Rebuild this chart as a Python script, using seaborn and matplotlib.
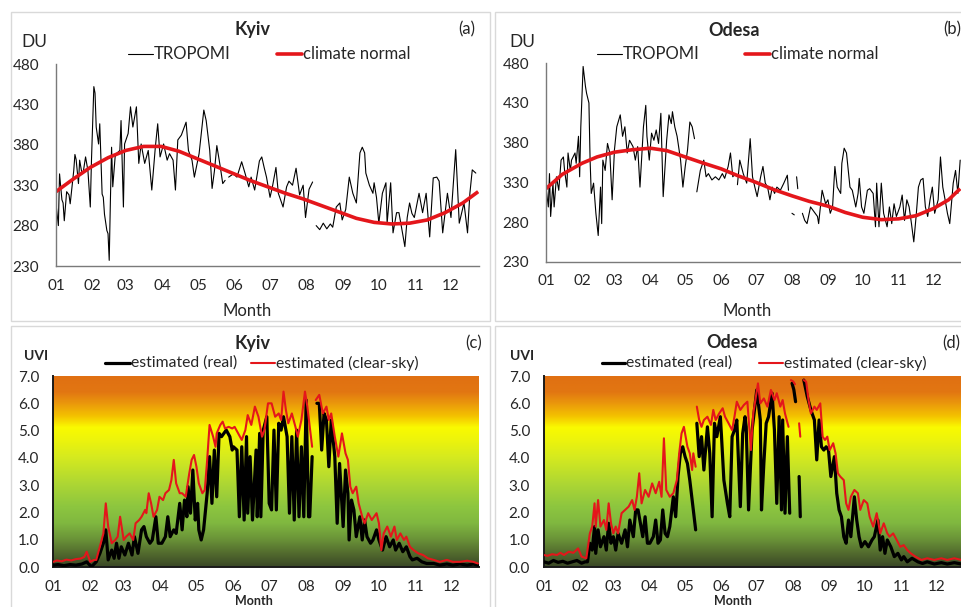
import numpy as np
import matplotlib
matplotlib.use("Agg")
import matplotlib.pyplot as plt
import seaborn as sns
from matplotlib.colors import LinearSegmentedColormap
from matplotlib.lines import Line2D
from matplotlib.patches import Rectangle

nan = np.nan

# ---------------- data ----------------
month_days = [1, 32, 60, 91, 121, 152, 182, 213, 244, 274, 305, 335]
month_labels = ["01", "02", "03", "04", "05", "06", "07", "08", "09", "10", "11", "12"]
du_ticks = [230, 280, 330, 380, 430, 480]
uvi_ticks = [0, 1, 2, 3, 4, 5, 6, 7]

kyiv_o3_day = [1,3,4,6,7,8,10,12,13,16,17,18,20,21,23,24,26,28,30,31,33,34,35,37,38,40,41,42,44,45,46,47,48,49,51,52,55,56,58,59,62,64,66,69,71,73,76,79,82,85,87,89,92,95,97,100,102,104,107,111,113,116,118,122,126,128,131,133,135,137,140,142,144,145.5,147,151,154,158,161,164,166,169,173,175,177,179,182,184,187,189,193,196,198,201,204,207,210,212,215,218,219.5,221,224,227,230,233,235,238,241,243,246,249,252,255,258,260,262,263,266,269,270,272,274,277,280,281,284,286,289,291,294,296,298,300,302,304,308,311,314,317,320,323,325,328,332,335,339,342,346,349,351,353,356]
kyiv_o3 = [307,280,344,312,308,286,322,318,307,348,368,362,332,361,344,346,365,348,303,361,452,444,402,381,406,319,315,294,274,270,237,311,377,328,365,369,373,410,303,381,394,427,402,427,357,381,357,373,324,377,406,365,381,361,369,361,324,386,392,408,373,361,340,369,423,410,373,326,348,379,352,332,336,nan,340,344,340,359,344,328,340,324,360,365,352,340,315,328,352,320,303,328,335,330,351,318,330,290,325,334,nan,280,275,283,276,282,278,303,308,287,300,340,320,308,370,377,370,345,330,320,333,315,283,320,333,283,333,271,296,296,271,254,290,308,295,290,320,296,320,266,339,340,335,271,320,290,374,283,308,271,320,349,345]

kyiv_norm_day = [1,15,30,45,60,75,90,105,120,135,150,165,180,195,210,225,240,255,270,285,300,315,330,345,358]
kyiv_norm = [322,337,352,364,373,378,378,372,363,354,345,336,328,320,313,305,297,289,284,282,283,287,296,308,322]

odesa_o3_day = [1,3,4,5,7,8,10,12,14,16,17,19,20,22,23,26,27,29,30,31,33,35,36,38,39,40,42,44,46,48,49,50,52,54,56,58,60,62,65,67,69,71,73,76,78,80,82,85,87,88,90,92,94,96,98,100,102,105,107,109,110,112,114,117,119,121,123,125,127,129,130,131,134,137,139,141,144,147,150,153,155,158,160,162,164,165,166,168,171,174,177,179,181,183,186,188,190,192,194,196,198,200,203,206,209,210,211,213,215,216,217,218,219,222,224,226,229,232,235,236,239,242,244,246,248,250,252,255,256,258,260,263,265,268,270,271,273,275,278,280,283,285,286,288,290,292,295,297,299,301,303,306,308,310,312,314,316,318,320,322,324,326,328,330,332,334,336,339,341,343,345,347,349,352,354,356,358]
odesa_o3 = [324,299,341,287,329,299,337,320,358,362,345,324,367,345,358,367,354,388,337,400,476,451,442,430,358,316,329,291,263,324,278,358,345,379,367,308,371,400,415,388,400,367,383,375,358,375,324,400,427,388,358,392,383,396,379,417,312,383,415,404,419,400,388,358,324,350,371,406,400,385,nan,318,345,358,337,341,333,337,333,341,335,350,367,337,341,nan,327,358,341,329,385,337,324,312,337,350,329,324,308,324,316,324,320,329,339,320,nan,291,289,nan,337,322,nan,291,282,278,299,293,287,278,320,303,308,291,299,350,324,316,354,373,367,324,320,299,316,335,299,291,320,322,316,274,329,274,329,291,274,299,278,303,287,299,314,282,308,299,278,255,287,324,333,335,299,287,308,324,291,308,362,324,308,291,278,329,345,316,358]

odesa_norm_day = [1,15,32,45,60,75,91,105,121,135,152,167,182,197,213,228,244,259,274,290,305,320,335,348,358]
odesa_norm = [322,340,354,362,368,371,373,370,362,355,347,338,330,321,313,306,300,292,286,283,284,288,297,308,322]

kyiv_cs_day = [1,4,8,12,16,20,24,27,29,32,35,37,40,43,45,47,50,53,55,57,60,62,65,68,70,73,75,78,79,81,83,85,88,90,93,95,98,100,102,104,107,109,112,115,117,119,121,123,126,128,130,132,135,137,138,141,143,145,148,151,153,156,159,162,164,167,170,173,176,178,181,184,187,190,192,194,196,198,201,204,206,209,212,214,216,218,219.5,221,224,227,230,232,234,237,240,243,246,248,250,252,255,257,260,262,265,268,272,274,276,278,281,284,287,289,292,295,297,300,303,307,311,315,320,325,331,336,342,348,353,357]
kyiv_cs = [0.2,0.25,0.22,0.28,0.25,0.3,0.32,0.38,0.57,0.2,0.27,0.27,0.75,1.24,2.34,1.49,0.88,1.0,1.12,1.85,1.0,1.12,1.24,1.0,1.61,1.73,1.85,2.1,1.98,2.71,2.34,1.85,2.1,2.58,2.46,2.71,2.83,3.19,3.93,3.07,2.71,2.71,2.58,3.44,3.93,4.11,3.68,3.07,2.71,2.83,3.93,5.21,4.78,4.41,4.9,5.21,5.33,5.08,5.14,5.08,5.14,4.9,4.66,5.02,5.57,5.21,5.88,5.51,4.78,5.02,6.0,6.0,5.51,5.63,5.39,6.43,5.76,5.27,5.63,5.14,4.78,5.39,6.43,5.88,5.14,4.41,nan,6.12,6.31,5.63,5.88,5.39,5.63,4.78,4.05,4.9,4.17,3.93,2.95,2.71,2.95,2.34,1.85,1.61,1.98,1.73,1.98,1.61,0.63,1.24,1.49,1.12,1.49,1.0,1.24,1.0,1.12,0.75,0.63,0.51,0.45,0.33,0.27,0.2,0.27,0.2,0.2,0.24,0.2,0.14]

kyiv_re_day = [1,5,10,15,20,25,29,33,37,40,43,45,47,50,52,54,56,58,61,64,67,69,72,75,77,79,82,84,87,89,92,95,97,99,102,104,107,109,111,113,114,116,118,120,122,123,125,127,130,132,134,136,138,140,142,144,146,149,151,152,155,157,159,161,163,164,166,168,171,172,174,175,177,180,182,184,186,188,190,192,194,197,199,201,203,205,207,209,211,213,215,216,218,219.5,222,224,226,228,230,232,234,237,239,241,244,246,248,249,251,253,255,258,260,262,264,267,269,272,274,277,280,283,286,288,291,294,297,300,302,306,310,314,320,325,331,336,342,348,353,357]
kyiv_re = [0.08,0.1,0.06,0.1,0.08,0.12,0.2,0.02,0.2,0.5,0.88,1.37,0.27,0.63,0.33,0.88,0.33,0.75,0.45,0.88,0.45,1.12,0.51,1.37,1.49,1.12,0.88,1.0,1.85,0.88,0.88,1.12,1.85,1.12,1.37,1.24,2.34,1.37,2.46,1.85,2.95,1.98,3.56,1.73,2.34,1.37,1.0,1.37,2.71,4.05,2.34,4.29,2.58,4.9,4.78,4.9,5.02,4.78,4.29,4.41,4.29,1.85,4.41,1.73,4.78,1.98,4.05,1.73,4.29,1.85,4.9,1.85,5.02,5.51,2.34,2.1,5.02,2.1,5.27,5.02,5.51,4.78,1.98,4.78,1.73,5.02,1.85,4.41,1.85,6.12,1.85,1.85,4.05,nan,6.0,6.0,4.29,5.63,5.39,3.68,5.39,4.05,1.61,3.8,1.49,3.56,2.71,1.0,2.46,2.1,1.12,1.85,1.0,1.73,1.12,0.88,1.0,1.37,1.0,0.63,1.12,0.75,1.0,0.63,0.88,0.57,0.75,0.39,0.27,0.33,0.2,0.14,0.14,0.08,0.12,0.08,0.12,0.08,0.12,0.08]

odesa_cs_day = [1,4,8,12,15,18,22,26,30,33,37,40,42,44,45,47,49,52,54,56,58,60,62,64,67,70,73,76,78,80,82,84,87,90,93,96,99,101,103,105,108,111,114,116,118,120,123,125,127,128,130,130.5,131,133,135,137,140,143,145,147,150,153,155,158,161,163,165,168,171,174,177,179,183,185,188,191,194,197,199,202,204,206,209,210,211,213,214.5,216,218,219,220,222,224,226,228,231,233,236,238,240,242,244,247,249,251,253,256,258,260,262,265,268,270,273,276,278,281,284,287,290,293,295,298,301,304,307,310,313,317,322,327,333,339,344,350,356]
odesa_cs = [0.45,0.42,0.48,0.45,0.53,0.45,0.57,0.53,0.69,0.39,0.33,1.24,1.49,2.34,1.49,2.46,1.49,1.73,1.37,2.34,1.61,1.24,1.49,1.24,1.98,2.1,2.22,2.46,2.1,2.58,3.44,2.34,2.83,2.58,3.07,2.71,3.13,2.58,4.72,2.83,2.58,2.71,3.19,4.17,4.9,5.14,4.41,4.17,3.56,4.17,3.68,nan,5.88,5.39,5.14,5.39,5.51,5.21,5.76,5.39,5.63,5.82,5.51,5.27,5.02,5.51,6.06,5.76,5.94,6.06,4.29,5.63,6.73,6.0,6.18,5.88,6.49,6.12,6.37,5.88,6.12,5.63,5.14,nan,6.85,6.8,6.7,nan,5.27,4.78,nan,6.85,6.79,6.12,5.63,5.88,5.76,6.0,4.78,4.66,4.78,4.29,4.54,4.17,3.44,3.32,3.19,2.34,2.1,2.58,2.83,2.71,2.1,2.46,2.34,1.85,1.49,1.98,1.24,1.61,1.24,1.12,1.24,1.0,0.75,0.81,0.63,0.51,0.39,0.27,0.33,0.27,0.33,0.27,0.33,0.27]

odesa_re_day = [1,5,9,13,17,21,25,29,33,36,38,40,42,44,45,47,49,52,54,56,58,60,62,64,67,70,72,74,77,79,81,83,85,87,89,91,94,96,98,100,102,104,106,108,111,113,115,117,119,121,123,125,128,130,130.5,131,133,135,137,140,142,144,146,148,151,152,154,157,159,161,163,165,168,170,172,173,175,178,180,182,185,186,188,190,192,195,197,199,201,203,204,206,208,210,211,212,213.5,215,216,218,219,220,222,225,228,231,233,235,237,239,241,243,245,248,250,252,254,256,258,260,262,265,267,269,271,274,277,280,282,285,287,289,291,293,296,299,302,305,307,310,314,319,323,327,333,339,344,350,356]
odesa_re = [0.2,0.15,0.25,0.18,0.22,0.15,0.2,0.25,0.15,0.2,0.2,0.88,0.63,1.49,0.51,1.37,0.75,1.12,0.63,1.61,0.88,1.12,0.63,1.24,0.88,1.37,0.75,1.73,1.12,2.1,2.1,1.61,1.12,1.85,0.88,0.88,1.12,1.73,0.88,1.0,2.1,1.24,1.12,1.49,2.58,1.85,3.32,4.17,4.41,4.05,3.8,3.19,2.1,1.37,nan,5.27,4.05,4.78,3.56,5.14,4.17,1.85,5.27,4.78,5.51,4.78,3.19,2.34,1.85,4.78,5.02,5.39,2.22,4.9,5.51,5.14,2.1,5.02,5.76,6.49,5.39,2.1,3.8,5.27,5.51,6.37,5.02,2.34,5.51,2.1,5.39,1.98,4.78,1.98,nan,6.73,6.5,6.06,nan,3.32,1.85,nan,6.85,6.24,5.76,5.39,3.93,5.39,4.41,4.29,4.41,4.29,3.32,4.05,2.71,2.1,1.85,1.12,0.88,1.73,1.12,2.58,1.73,1.12,0.75,0.94,0.75,1.0,1.12,1.73,0.63,1.12,0.51,1.0,0.75,0.39,0.51,0.27,0.39,0.2,0.33,0.2,0.14,0.2,0.12,0.17,0.12,0.17,0.12]

# ---------------- style ----------------
sns.set_theme(style="white")
plt.rcParams["font.family"] = ["Lato", "DejaVu Sans"]
TXT = "#262626"
RED = "#e4161b"
W, H = 961, 607

fig = plt.figure(figsize=(W / 100, H / 100), dpi=100)
fig.patch.set_facecolor("white")


def fx(px):
    return px / W


def fy(py):
    return 1 - py / H


def add_ax(l, r, t, b):
    return fig.add_axes([fx(l), fy(b), (r - l) / W, (b - t) / H])


def draw(ax, days, vals, **kw):
    d = np.asarray(days, float)
    v = np.asarray(vals, float)
    idx = np.flatnonzero(np.isnan(v))
    starts = np.r_[0, idx + 1]
    ends = np.r_[idx, len(v)]
    for s, e in zip(starts, ends):
        if e - s >= 2:
            sns.lineplot(x=d[s:e], y=v[s:e], ax=ax, estimator=None, sort=False,
                         legend=False, **kw)


# panel frames
for (l, t, r, b) in [(10.5, 11.5, 490, 320.5), (494.5, 11.5, 970, 320.5),
                     (10.5, 325.5, 490, 615), (494.5, 325.5, 970, 615)]:
    fig.add_artist(Rectangle((fx(l), fy(b)), (r - l) / W, (b - t) / H,
                             transform=fig.transFigure, fill=False,
                             edgecolor="#d9d9d9", lw=1.0))


def style_axes(ax, spine_color, spine_lw):
    for s in ["top", "right"]:
        ax.spines[s].set_visible(False)
    for s in ["left", "bottom"]:
        ax.spines[s].set_color(spine_color)
        ax.spines[s].set_linewidth(spine_lw)
    ax.set_facecolor("none")
    ax.set_xticks(month_days)
    ax.set_xticklabels(month_labels)
    ax.tick_params(axis="x", direction="out", length=4, width=0.8,
                   color=spine_color, labelsize=11, labelcolor=TXT, pad=5)
    ax.tick_params(axis="y", length=0, labelsize=11, labelcolor=TXT, pad=12)
    ax.set_xlabel("")
    ax.set_ylabel("")
    ax.grid(False)


def legend_item(x0, x1, y, color, lw, label, size):
    fig.add_artist(Line2D([fx(x0), fx(x1)], [fy(y), fy(y)], color=color, lw=lw,
                          transform=fig.transFigure))
    fig.text(fx(x1 + 1), fy(y), label, ha="left", va="center", fontsize=size,
             color=TXT)


# ---------- ozone panels ----------
oz_specs = [
    dict(l=56, r=479, t=64, b=266, days=kyiv_o3_day, vals=kyiv_o3,
         nd=kyiv_norm_day, nv=kyiv_norm, title="Kyiv", tx=253, letter="(a)", lx=458,
         du_x=21, leg=(128, 153, 277, 302), mx=247),
    dict(l=546, r=961, t=63.3, b=261.7, days=odesa_o3_day, vals=odesa_o3,
         nd=odesa_norm_day, nv=odesa_norm, title="Odesa", tx=734, letter="(b)", lx=943,
         du_x=509, leg=(597, 622, 745, 770), mx=747),
]
for sp in oz_specs:
    ax = add_ax(sp["l"], sp["r"], sp["t"], sp["b"])
    draw(ax, sp["days"], sp["vals"], color="black", lw=0.8)
    draw(ax, sp["nd"], sp["nv"], color=RED, lw=2.6, solid_capstyle="butt")
    ax.set_xlim(1, 358.7)
    ax.set_ylim(230, 480)
    ax.set_yticks(du_ticks)
    ax.set_yticklabels([str(v) for v in du_ticks])
    style_axes(ax, "#7a7a7a", 1.0)
    fig.text(fx(sp["tx"]), fy(30), sp["title"], ha="center", va="center",
             fontsize=13, fontweight="bold", color=TXT)
    fig.text(fx(sp["lx"]), fy(29), sp["letter"], ha="left", va="center",
             fontsize=12, color=TXT)
    fig.text(fx(sp["du_x"]), fy(42), "DU", ha="left", va="center", fontsize=12.5,
             color=TXT)
    a0, a1, b0, b1 = sp["leg"]
    legend_item(a0, a1, 54, "black", 0.8, "TROPOMI", 12)
    legend_item(b0, b1, 54, RED, 2.6, "climate normal", 12)
    fig.text(fx(sp["mx"]), fy(311), "Month", ha="center", va="center",
             fontsize=12, color=TXT)

# ---------- UVI panels ----------
grad = LinearSegmentedColormap.from_list("uvi", [
    (0.0, "#3a4826"), (0.5 / 7, "#536c2e"), (1.0 / 7, "#6a9338"),
    (1.6 / 7, "#80b840"), (2.2 / 7, "#8dc63f"), (3.0 / 7, "#acd634"),
    (4.0 / 7, "#d5ea1f"), (4.7 / 7, "#eff50a"), (5.1 / 7, "#fafa00"),
    (5.5 / 7, "#f4c400"), (6.0 / 7, "#ea960c"), (6.4 / 7, "#e27612"),
    (1.0, "#e07012")])
gvals = np.linspace(0, 1, 400).reshape(-1, 1)

uv_specs = [
    dict(l=53.3, r=479, xend=357.9, re_d=kyiv_re_day, re_v=kyiv_re,
         cs_d=kyiv_cs_day, cs_v=kyiv_cs, title="Kyiv", tx=253, letter="(c)", lx=465,
         ux=24, leg=(105, 130, 251, 275), mx=254),
    dict(l=544, r=963.7, xend=358.0, re_d=odesa_re_day, re_v=odesa_re,
         cs_d=odesa_cs_day, cs_v=odesa_cs, title="Odesa", tx=732, letter="(d)", lx=942,
         ux=510, leg=(602, 625, 759, 783), mx=733),
]
for sp in uv_specs:
    ax = add_ax(sp["l"], sp["r"], 376, 567.3)
    ax.imshow(gvals, extent=[1, sp["xend"], 0, 7], origin="lower", aspect="auto",
              cmap=grad, zorder=0, interpolation="bilinear")
    draw(ax, sp["re_d"], sp["re_v"], color="black", lw=2.3, zorder=3)
    draw(ax, sp["cs_d"], sp["cs_v"], color=RED, lw=1.5, zorder=4)
    ax.set_xlim(1, sp["xend"])
    ax.set_ylim(0, 7)
    ax.set_yticks(uvi_ticks)
    ax.set_yticklabels([f"{v:.1f}" for v in uvi_ticks])
    style_axes(ax, "#1a1a1a", 1.4)
    ax.tick_params(axis="y", pad=10)
    fig.text(fx(sp["tx"]), fy(343), sp["title"], ha="center", va="center",
             fontsize=13, fontweight="bold", color=TXT)
    fig.text(fx(sp["lx"]), fy(343), sp["letter"], ha="left", va="center",
             fontsize=12, color=TXT)
    fig.text(fx(sp["ux"]), fy(356), "UVI", ha="left", va="center", fontsize=10,
             fontweight="bold", color=TXT)
    a0, a1, b0, b1 = sp["leg"]
    legend_item(a0, a1, 363, "black", 2.3, "estimated (real)", 11.3)
    legend_item(b0, b1, 363, RED, 1.5, "estimated (clear-sky)", 11.3)
    fig.text(fx(sp["mx"]), fy(595), "Month", ha="center", va="top",
             fontsize=9, fontweight="bold", color=TXT)

fig.savefig("out.png", dpi=100, facecolor="white")
